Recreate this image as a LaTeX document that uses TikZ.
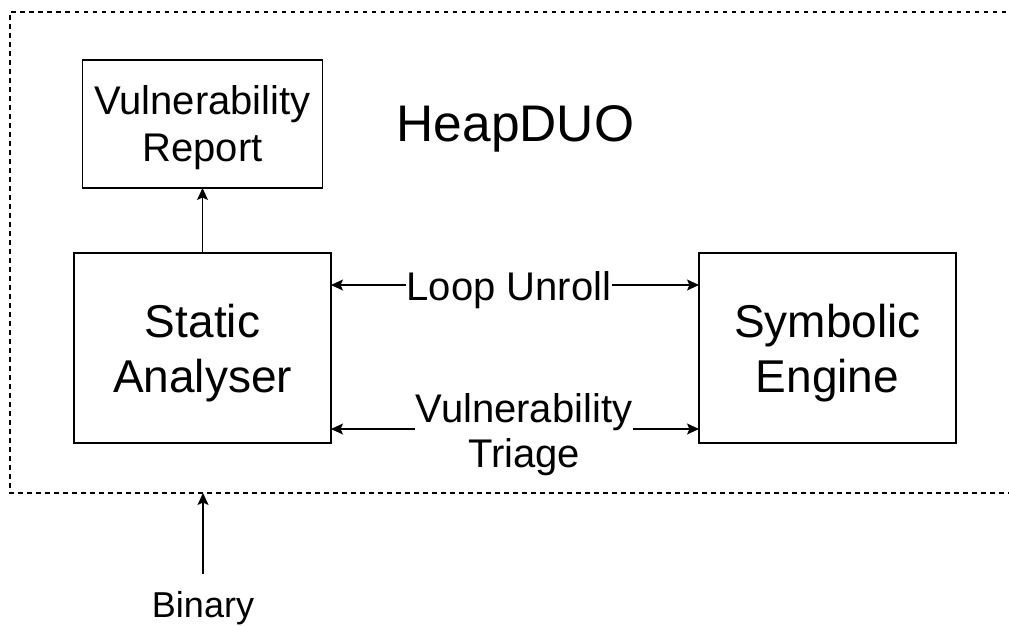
\documentclass[tikz,border=0pt]{standalone}
\usepackage{fontspec}
\setmainfont{Liberation Sans}
\usetikzlibrary{arrows.meta,positioning}

\begin{document}
\begin{tikzpicture}[x=1pt,y=-1pt,
 >={Stealth[length=12pt,width=11pt,inset=2.5pt]},
 box/.style={draw,line width=1.2pt,outer sep=0pt,align=center,
 minimum width=257pt,minimum height=190pt,font=\fontsize{46}{55}\selectfont},
 small/.style={box,minimum width=240pt,minimum height=128pt,
 font=\fontsize{40}{47}\selectfont},
 lbl/.style={fill=white,inner sep=1pt,align=center,font=\fontsize{40}{45}\selectfont},
 frame/.style={dash pattern=on 4.5pt off 4.5pt,line width=1.2pt},
 arr/.style={->,line width=1.2pt},
 dbl/.style={<->,line width=1.2pt}]
 \useasboundingbox (0,0) rectangle (1009,625);
 \draw[frame] (1015,12) -| (10,493) -- (1015,493);
 \node[box] (static) at (202.5,348) {\rule{0pt}{43pt}Static\\Analyser};
 \node[box,right=368pt of static] (symbolic) {\rule{0pt}{43pt}Symbolic\\Engine};
 \node[small,above=65pt of static] (report) {\rule{0pt}{37pt}Vulnerability\\Report};
 \node[font=\fontsize{51.5}{60}\selectfont] (title) at (515.5,128.5) {HeapDUO};
 \node[font=\fontsize{36}{43}\selectfont,anchor=base] (binary) at (203,617) {Binary};
 \coordinate (entry) at (203,493);
 \draw[arr] (static) -- (report);
 \draw[dbl] ([yshift=-32pt]static.north east) --
 node[lbl,xshift=-6pt,yshift=-5pt] {Loop Unroll} ([yshift=-32pt]symbolic.north west);
 \draw[dbl] ([yshift=14pt]static.south east) --
 node[lbl,xshift=9pt,yshift=-5.5pt] {Vulnerability\\Triage} ([yshift=14pt]symbolic.south west);
 \draw[arr] ([yshift=13pt]binary.north) -- (entry);
\end{tikzpicture}
\end{document}
